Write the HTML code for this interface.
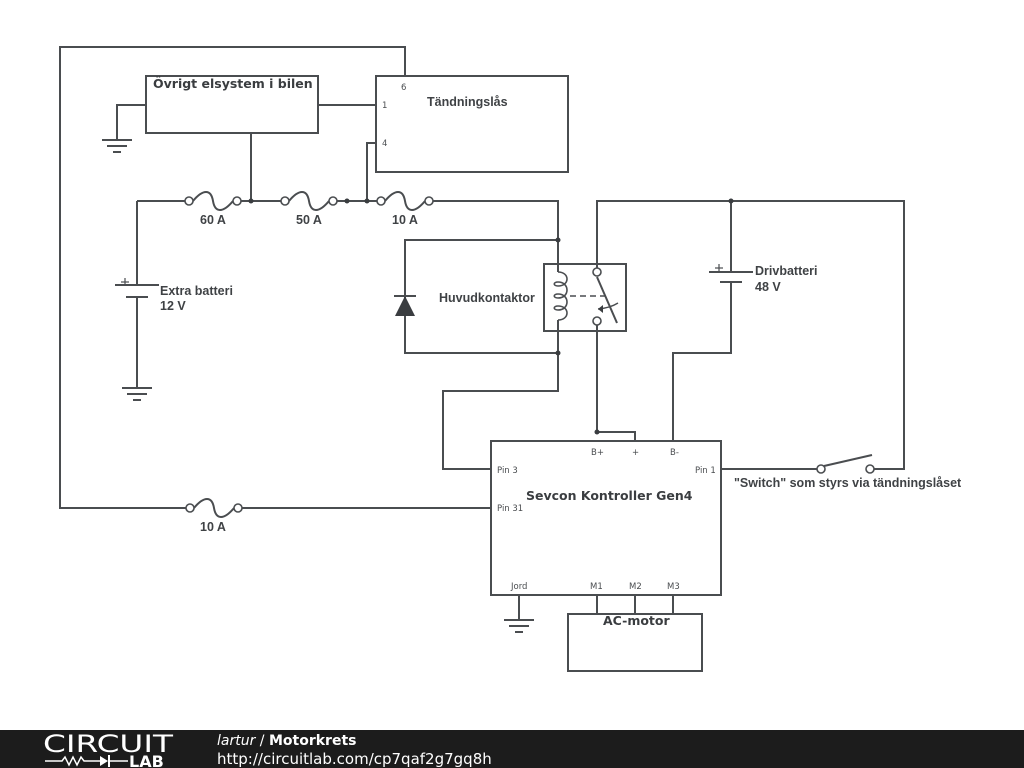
<!DOCTYPE html>
<html><head><meta charset="utf-8"><style>
html,body{margin:0;padding:0;background:#fff;width:1024px;height:768px;overflow:hidden}
svg{display:block}
.w{stroke:#4a4d50;stroke-width:2;fill:none}
.b{font-family:"Liberation Sans",sans-serif;font-weight:bold;font-size:12.5px;fill:#3f4245}
.d{font-family:"DejaVu Sans",sans-serif;font-weight:bold;font-size:12.5px;fill:#3a3d40}
.p{font-family:"DejaVu Sans",sans-serif;font-size:8.5px;fill:#4a4d50}
</style></head><body>
<svg width="1024" height="768" viewBox="0 0 1024 768">
<g class="w">
<polyline points="405,76 405,47 60,47 60,508 190,508"/>
<line x1="238" y1="508" x2="491" y2="508"/>
<path d="M194,508 C204,496 212,496 214,508 C216,520 224,520 234,508"/>
<rect x="146" y="76" width="172" height="57"/>
<rect x="376" y="76" width="192" height="96"/>
<rect x="491" y="441" width="230" height="154"/>
<rect x="568" y="614" width="134" height="57"/>
<rect x="544" y="264" width="82" height="67"/>
<polyline points="146,105 117,105 117,140"/>
<line x1="102" y1="140" x2="132" y2="140"/><line x1="107" y1="146" x2="127" y2="146"/><line x1="113" y1="152" x2="121" y2="152"/>
<line x1="318" y1="105" x2="376" y2="105"/>
<line x1="251" y1="133" x2="251" y2="201"/>
<polyline points="376,143 367,143 367,201"/>
<line x1="137" y1="201" x2="185" y2="201"/>
<line x1="241" y1="201" x2="281" y2="201"/>
<line x1="337" y1="201" x2="377" y2="201"/>
<polyline points="433,201 558,201 558,272"/>
<path d="M193,201 C203,189 211,189 213,201 C215,213 223,213 233,201"/>
<path d="M289,201 C299,189 307,189 309,201 C311,213 319,213 329,201"/>
<path d="M385,201 C395,189 403,189 405,201 C407,213 415,213 425,201"/>
<polyline points="137,201 137,285"/>
<line x1="115" y1="285" x2="159" y2="285"/>
<line x1="126" y1="297" x2="148" y2="297"/>
<line x1="137" y1="297" x2="137" y2="388"/>
<line x1="122" y1="388" x2="152" y2="388"/><line x1="127" y1="394" x2="147" y2="394"/><line x1="133" y1="400" x2="141" y2="400"/>
<polyline points="558,240 405,240 405,353 558,353"/>
<line x1="394" y1="296" x2="416" y2="296"/>
<path d="M558,272 C570,272 570,286 558,286 C553,286 553,282 558,282 C570,282 570,298 558,298 C553,298 553,294 558,294 C570,294 570,310 558,310 C553,310 553,306 558,306 C570,306 570,320 558,320" stroke-width="1.6"/>
<polyline points="558,320 558,391 443,391 443,469 491,469"/>
<line x1="597" y1="277" x2="617" y2="323"/>
<line x1="570" y1="296" x2="608" y2="296" stroke-dasharray="6,4" stroke-width="1.4"/>
<path d="M618,303 Q610,308 598,309" stroke-width="1.4"/>
<polyline points="597,268 597,201 904,201 904,469 874,469"/>
<polyline points="597,325 597,432 635,432 635,441"/>
<line x1="731" y1="201" x2="731" y2="272"/>
<line x1="709" y1="272" x2="753" y2="272"/>
<line x1="720" y1="282" x2="742" y2="282"/>
<polyline points="731,282 731,353 673,353 673,441"/>
<line x1="721" y1="469" x2="817" y2="469"/>
<line x1="824" y1="466" x2="872" y2="455"/>
<line x1="519" y1="595" x2="519" y2="620"/>
<line x1="504" y1="620" x2="534" y2="620"/><line x1="509" y1="626" x2="529" y2="626"/><line x1="515" y1="632" x2="523" y2="632"/>
<line x1="597" y1="595" x2="597" y2="614"/><line x1="635" y1="595" x2="635" y2="614"/><line x1="673" y1="595" x2="673" y2="614"/>
</g>
<g stroke="#4a4d50" stroke-width="1.2">
<line x1="121" y1="282" x2="129" y2="282"/><line x1="125" y1="278" x2="125" y2="286"/>
<line x1="715" y1="268" x2="723" y2="268"/><line x1="719" y1="264" x2="719" y2="272"/>
</g>
<polygon points="405,296 395,316 415,316" fill="#3a3d40"/>
<polygon points="598,309 603,305 603,313" fill="#3a3d40"/>
<g fill="#fff" stroke="#4a4d50" stroke-width="1.6">
<circle cx="189" cy="201" r="4"/><circle cx="237" cy="201" r="4"/>
<circle cx="285" cy="201" r="4"/><circle cx="333" cy="201" r="4"/>
<circle cx="381" cy="201" r="4"/><circle cx="429" cy="201" r="4"/>
<circle cx="190" cy="508" r="4"/><circle cx="238" cy="508" r="4"/>
<circle cx="597" cy="272" r="4"/><circle cx="597" cy="321" r="4"/>
<circle cx="821" cy="469" r="4"/><circle cx="870" cy="469" r="4"/>
</g>
<g fill="#3a3d40">
<circle cx="251" cy="201" r="2.5"/><circle cx="347" cy="201" r="2.5"/><circle cx="367" cy="201" r="2.5"/>
<circle cx="558" cy="240" r="2.5"/><circle cx="558" cy="353" r="2.5"/><circle cx="731" cy="201" r="2.5"/><circle cx="597" cy="432" r="2.5"/>
</g>
<text class="d" x="153" y="88">Övrigt elsystem i bilen</text>
<text class="b" x="427" y="106">Tändningslås</text>
<text class="p" x="401" y="90">6</text><text class="p" x="382" y="108">1</text><text class="p" x="382" y="146">4</text>
<text class="b" x="200" y="224">60 A</text><text class="b" x="296" y="224">50 A</text><text class="b" x="392" y="224">10 A</text>
<text class="b" x="200" y="531">10 A</text>
<text class="b" x="160" y="295">Extra batteri</text><text class="b" x="160" y="310">12 V</text>
<text class="b" x="755" y="275">Drivbatteri</text><text class="b" x="755" y="291">48 V</text>
<text class="b" x="439" y="302">Huvudkontaktor</text>
<text class="b" x="734" y="487">"Switch" som styrs via tändningslåset</text>
<text class="d" x="526" y="500">Sevcon Kontroller Gen4</text>
<text class="d" x="603" y="625">AC-motor</text>
<text class="p" x="591" y="455">B+</text><text class="p" x="632" y="455">+</text><text class="p" x="670" y="455">B-</text>
<text class="p" x="497" y="473">Pin 3</text><text class="p" x="695" y="473">Pin 1</text><text class="p" x="497" y="511">Pin 31</text>
<text class="p" x="511" y="589">Jord</text><text class="p" x="590" y="589">M1</text><text class="p" x="629" y="589">M2</text><text class="p" x="667" y="589">M3</text>
<rect x="0" y="730" width="1024" height="38" fill="#1c1c1c"/>
<text x="43" y="752" font-family="DejaVu Sans,sans-serif" font-size="24" fill="#fff" textLength="130" lengthAdjust="spacingAndGlyphs">CIRCUIT</text>
<polyline points="45,761 62,761 65,757 69,765 73,757 77,765 81,757 84,761 100,761" stroke="#fff" stroke-width="1.5" fill="none"/>
<polygon points="100,756 100,766 108,761" fill="#fff"/><line x1="109" y1="755" x2="109" y2="767" stroke="#fff" stroke-width="2"/>
<line x1="109" y1="761" x2="128" y2="761" stroke="#fff" stroke-width="1.5"/>
<text x="129" y="767" font-family="DejaVu Sans,sans-serif" font-size="16" font-weight="bold" fill="#fff">LAB</text>
<text x="217" y="745" font-family="DejaVu Sans,sans-serif" font-size="14" fill="#fff"><tspan font-style="italic">lartur</tspan> / <tspan font-weight="bold">Motorkrets</tspan></text>
<text x="217" y="764" font-family="DejaVu Sans,sans-serif" font-size="15" fill="#fff">http://circuitlab.com/cp7qaf2g7gq8h</text>
</svg>
</body></html>
